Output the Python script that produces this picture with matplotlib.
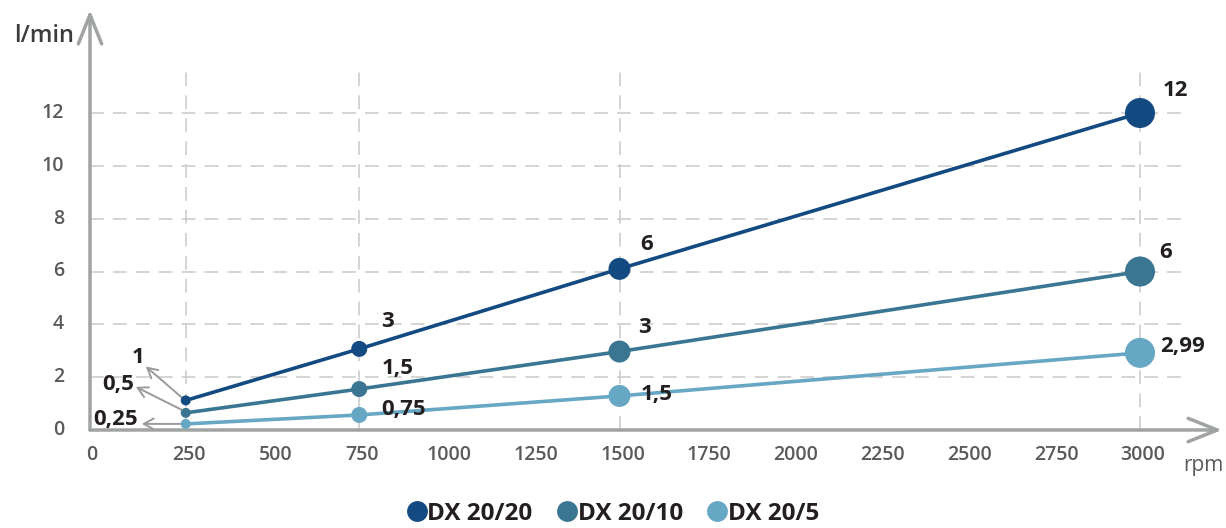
import matplotlib
matplotlib.use("Agg")
import matplotlib.pyplot as plt
from matplotlib.lines import Line2D

plt.rcParams['font.family'] = ['Open Sans', 'DejaVu Sans']

# ---- data ----
rpm = [250, 750, 1500, 3000]
series_names = ["DX 20/20", "DX 20/10", "DX 20/5"]
dx2020 = [1.12, 3.07, 6.1, 12.0]
dx2010 = [0.65, 1.55, 2.97, 6.0]
dx205 = [0.23, 0.57, 1.29, 2.92]
labels2020 = ["1", "3", "6", "12"]
labels2010 = ["0,5", "1,5", "3", "6"]
labels205 = ["0,25", "0,75", "1,5", "2,99"]
xticks = [0, 250, 500, 750, 1000, 1250, 1500, 1750, 2000, 2250, 2500, 2750, 3000]
yticks = [0, 2, 4, 6, 8, 10, 12]
x_grid = [250, 750, 1500, 3000]

# ---- style ----
colors = ["#124a81", "#3a7592", "#66a7c3"]
axis_gray = "#a0a3a3"
grid_gray = "#c9c9c9"
txt_dark = "#231f20"
tick_gray = "#5a5a5a"
marker_d_px = [10, 16, 22, 30]

W, H = 1226, 528
fig = plt.figure(figsize=(W / 100, H / 100), dpi=100)
px0, px3000 = 99, 1140
py0, py12 = 430, 113
ax = fig.add_axes([px0 / W, (H - py0) / H, (px3000 - px0) / W, (py0 - py12) / H])
ax.set_xlim(0, 3000)
ax.set_ylim(0, 12)
ax.axis('off')

sx = 3000 / (px3000 - px0)   # data per px
sy = 12 / (py0 - py12)
x_axis = (90 - px0) * sx     # where the vertical axis is drawn

# grid
for y in yticks[1:]:
    ax.plot([x_axis, (1190 - px0) * sx], [y, y], color=grid_gray, lw=1.1,
            dashes=(9, 6), clip_on=False, zorder=1)
for x in x_grid:
    ax.plot([x, x], [0, (py0 - 65) * sy], color=grid_gray, lw=1.1,
            dashes=(9, 6), clip_on=False, zorder=1)

# axes with arrows
arrow_kw = dict(arrowstyle='->,head_length=1.0,head_width=0.4', mutation_scale=21,
                color=axis_gray, lw=2.5, shrinkA=0, shrinkB=0)
ax.annotate('', xy=((1222 - px0) * sx, 0), xytext=(x_axis, 0),
            arrowprops=arrow_kw, annotation_clip=False, zorder=2)
ax.annotate('', xy=(x_axis, (py0 - 10) * sy), xytext=(x_axis, 0),
            arrowprops=arrow_kw, annotation_clip=False, zorder=2)

# tick labels
for x in xticks:
    ax.text(x + 3 * sx if x else (92 - px0) * sx, -25 * sy, str(x), ha='center',
            va='center', fontsize=14, fontweight='semibold', color=tick_gray,
            clip_on=False)
for y in yticks:
    ax.text((64 - px0) * sx, y, str(y), ha='right', va='center', fontsize=14,
            fontweight='semibold', color=tick_gray, clip_on=False)

ax.text((44 - px0) * sx, (py0 - 36) * sy, "l/min", ha='center', va='center',
        fontsize=17, fontweight='semibold', color="#3c3c3c", clip_on=False)
ax.text((1203 - px0) * sx, -35 * sy, "rpm", ha='center', va='center', fontsize=15,
        color=tick_gray, clip_on=False)

# series
all_series = [dx2020, dx2010, dx205]
sizes = [(d * 0.72) ** 2 for d in marker_d_px]
for vals, c in zip(all_series, colors):
    ax.plot(rpm, vals, color=c, lw=2.6, zorder=3, clip_on=False, solid_capstyle='round')
    ax.scatter(rpm, vals, s=sizes, color=c, zorder=4, clip_on=False, linewidths=0)

# data labels (offsets in pixels)
lab_kw = dict(textcoords='offset pixels', ha='center', va='center', fontsize=16,
              fontweight='bold', color=txt_dark, annotation_clip=False, zorder=5)
offs2020 = [None, (28, 27), (27, 24), (35, 23)]
offs2010 = [None, (38, 21), (25, 24), (26, 19)]
offs205 = [None, (44, 5), (37, 1), (43, 6)]
for vals, labs, offs in [(dx2020, labels2020, offs2020), (dx2010, labels2010, offs2010),
                         (dx205, labels205, offs205)]:
    for x, v, l, o in zip(rpm, vals, labs, offs):
        if o is None:
            continue
        ax.annotate(l, (x, v), xytext=o, **lab_kw)

# left labels with arrows for the first point
left_lab = [(-48, 43), (-68, 28), (-70, 4)]
left_head = [(-40, 34), (-50, 26), (-44, 0)]
for vals, labs, lo, ho in zip(all_series, [labels2020, labels2010, labels205], left_lab, left_head):
    ax.annotate(labs[0], (rpm[0], vals[0]), xytext=lo, **lab_kw)
    ax.annotate('', xy=(rpm[0] + ho[0] * sx, vals[0] + ho[1] * sy),
                xytext=(rpm[0] - 4 * sx, vals[0] + (3 * sy if ho[1] else 0)),
                arrowprops=dict(arrowstyle='->,head_length=0.55,head_width=0.3',
                                mutation_scale=13, color="#9a9a9a", lw=1.4,
                                shrinkA=0, shrinkB=0), annotation_clip=False, zorder=2)

# legend
handles = [Line2D([], [], marker='o', linestyle='none', markersize=15,
                  markerfacecolor=c, markeredgewidth=0) for c in colors]
fig.legend(handles, series_names, loc='center', bbox_to_anchor=(0.5, 0.027),
           ncol=3, frameon=False, handlelength=0.8, handletextpad=0.05,
           columnspacing=1.0, prop=dict(family='Open Sans', weight='bold', size=17.5),
           labelcolor=txt_dark)

fig.savefig("out.png", dpi=100)
